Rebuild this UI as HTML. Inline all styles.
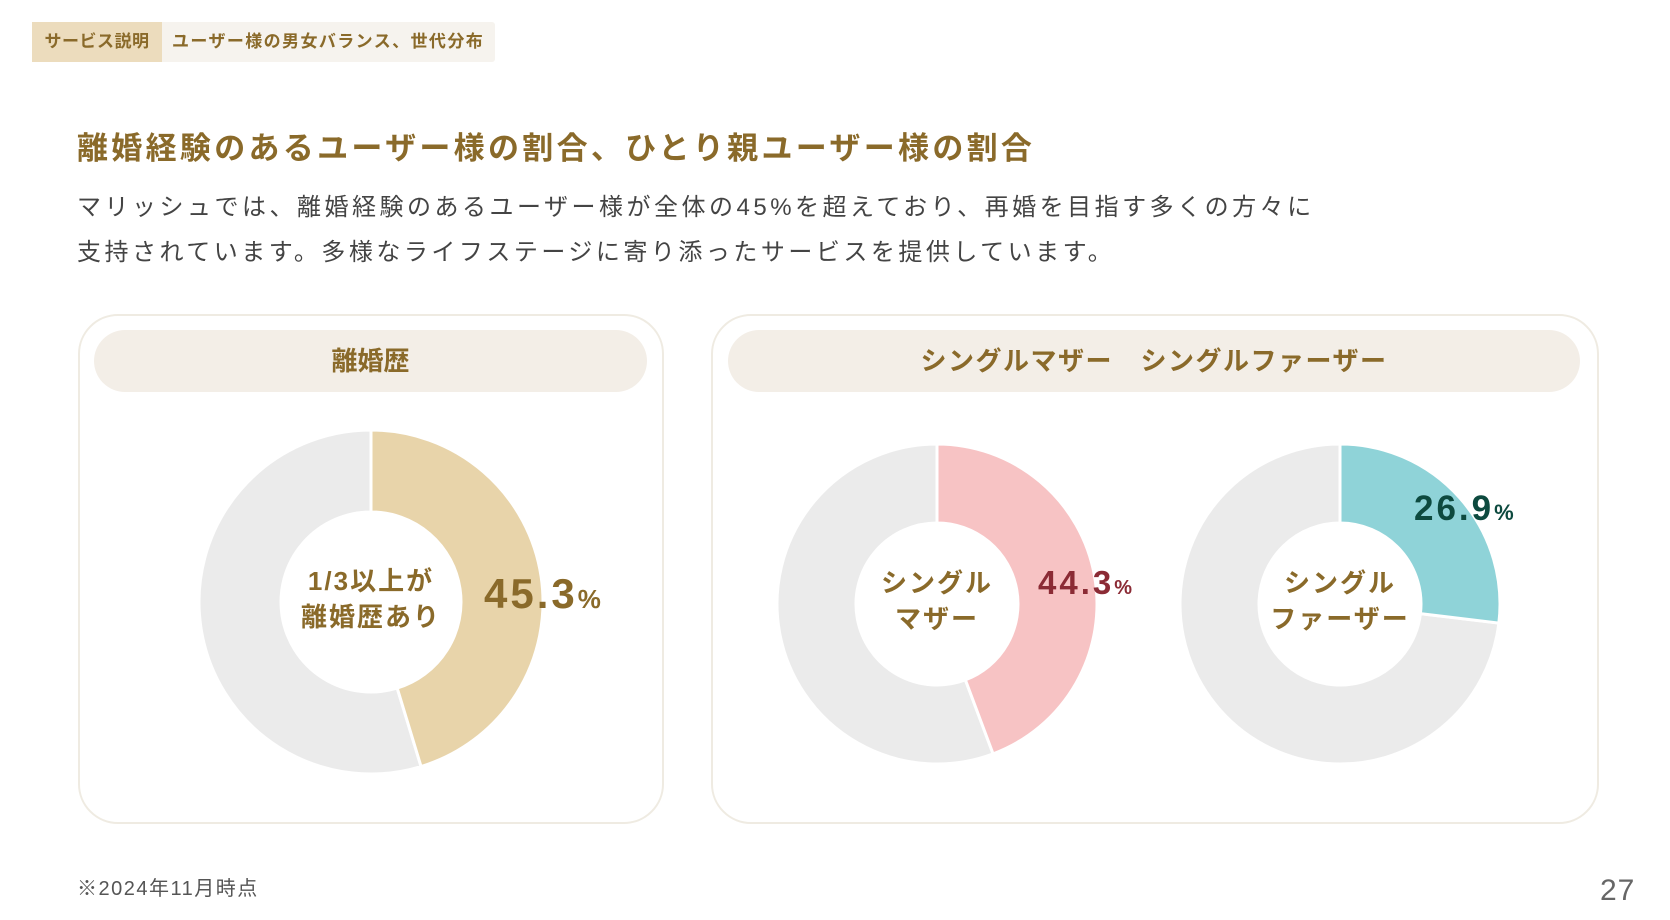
<!DOCTYPE html>
<html><head><meta charset="utf-8"><style>
body{margin:0;width:1670px;height:920px;background:#fff;position:relative;overflow:hidden;font-family:"Liberation Sans","Noto Sans CJK JP",sans-serif;}
.abs{position:absolute;}
</style></head><body>
<div class="abs" style="left:32px;top:22px;width:463px;height:40px;background:#f6f3ee;border-radius:3px;">
 <div style="position:absolute;left:0;top:0;width:130px;height:40px;background:#ecdcbd;color:#8a6a2a;font-size:17px;font-weight:bold;line-height:40px;text-align:center;letter-spacing:0.5px;">サービス説明</div>
 <div style="position:absolute;left:140px;top:0;height:40px;color:#8a6a2a;font-size:17px;font-weight:bold;line-height:40px;letter-spacing:1.4px;">ユーザー様の男女バランス、世代分布</div>
</div>
<div class="abs" style="left:77px;top:123px;font-size:31px;font-weight:bold;color:#8a6a2a;letter-spacing:3.3px;">離婚経験のあるユーザー様の割合、ひとり親ユーザー様の割合</div>
<div class="abs" style="left:77px;top:185px;font-size:24px;color:#444;line-height:45px;letter-spacing:3.5px;">マリッシュでは、離婚経験のあるユーザー様が全体の45%を超えており、再婚を目指す多くの方々に<br>支持されています。多様なライフステージに寄り添ったサービスを提供しています。</div>
<div class="abs" style="left:78px;top:314px;width:582px;height:506px;border:2px solid #efebe2;border-radius:40px;"></div>
<div class="abs" style="left:94px;top:330px;width:553px;height:62px;background:#f3eee7;border-radius:31px;text-align:center;line-height:62px;font-size:26px;font-weight:bold;color:#8a6a2a;">離婚歴</div>
<div class="abs" style="left:711px;top:314px;width:884px;height:506px;border:2px solid #efebe2;border-radius:40px;"></div>
<div class="abs" style="left:728px;top:330px;width:852px;height:62px;background:#f3eee7;border-radius:31px;text-align:center;line-height:62px;font-size:26px;font-weight:bold;color:#8a6a2a;letter-spacing:1.5px;">シングルマザー　シングルファーザー</div>
<svg class="abs" id="chart" style="left:0;top:0" width="1670" height="920"></svg>
<div class="abs" style="left:77px;top:872px;font-size:20px;color:#555;letter-spacing:1.5px;">※2024年11月時点</div>
<div class="abs" style="left:1600px;top:874px;font-size:30px;color:#666;letter-spacing:1px;">27</div>
<script>
const categories=["離婚歴","シングルマザー","シングルファーザー"];
const values=[45.3,44.3,26.9];
const valueLabels=["45.3","44.3","26.9"];
const centerLabels=[["1/3以上が","離婚歴あり"],["シングル","マザー"],["シングル","ファーザー"]];
const colors=["#e8d4aa","#f7c3c4","#8fd3d8"];
const labelColors=["#8a6a2a","#8b2b35","#0d4a3f"];
const geo=[{cx:371,cy:602,r:172,ri:90,fs:42,lx:484,ly:608},{cx:937,cy:604,r:160,ri:81,fs:33,lx:1038,ly:594},{cx:1340,cy:604,r:160,ri:81,fs:35,lx:1414,ly:520}];
const NS="http://www.w3.org/2000/svg";
const svg=document.getElementById('chart');
function pt(cx,cy,r,a){return [cx+r*Math.sin(a),cy-r*Math.cos(a)];}
function arc(g,from,to){
 const a0=from/100*2*Math.PI,a1=to/100*2*Math.PI,big=(a1-a0)>Math.PI?1:0;
 const p0=pt(g.cx,g.cy,g.r,a0),p1=pt(g.cx,g.cy,g.r,a1),q1=pt(g.cx,g.cy,g.ri,a1),q0=pt(g.cx,g.cy,g.ri,a0);
 return `M${p0[0]},${p0[1]}A${g.r},${g.r} 0 ${big} 1 ${p1[0]},${p1[1]}L${q1[0]},${q1[1]}A${g.ri},${g.ri} 0 ${big} 0 ${q0[0]},${q0[1]}Z`;
}
values.forEach((v,i)=>{
 const g=geo[i];
 const rest=document.createElementNS(NS,'path');
 rest.setAttribute('d',arc(g,v,100));rest.setAttribute('fill','#ebebeb');rest.setAttribute('stroke','#fff');rest.setAttribute('stroke-width','3');
 
 
 svg.appendChild(rest);
 const s=document.createElementNS(NS,'path');
 s.setAttribute('d',arc(g,0,v));s.setAttribute('fill',colors[i]);s.setAttribute('stroke','#fff');s.setAttribute('stroke-width','3');
 
 
 svg.appendChild(s);
 centerLabels[i].forEach((t,j)=>{
  const tx=document.createElementNS(NS,'text');
  tx.setAttribute('x',g.cx);tx.setAttribute('y',g.cy-12+j*36);tx.setAttribute('text-anchor','middle');
  tx.setAttribute('font-size','26');tx.setAttribute('font-weight','bold');tx.setAttribute('fill','#8a6a2a');tx.setAttribute('letter-spacing','2');
  tx.textContent=t;
  
  
  svg.appendChild(tx);
 });
 const lb=document.createElementNS(NS,'text');
 lb.setAttribute('x',g.lx);lb.setAttribute('y',g.ly);lb.setAttribute('font-size',g.fs);lb.setAttribute('font-weight','bold');lb.setAttribute('fill',labelColors[i]);lb.setAttribute('letter-spacing','3');
 lb.innerHTML=valueLabels[i]+'<tspan font-size="'+Math.round(g.fs*0.62)+'">%</tspan>';
 
 
 svg.appendChild(lb);
});
</script>
</body></html>
